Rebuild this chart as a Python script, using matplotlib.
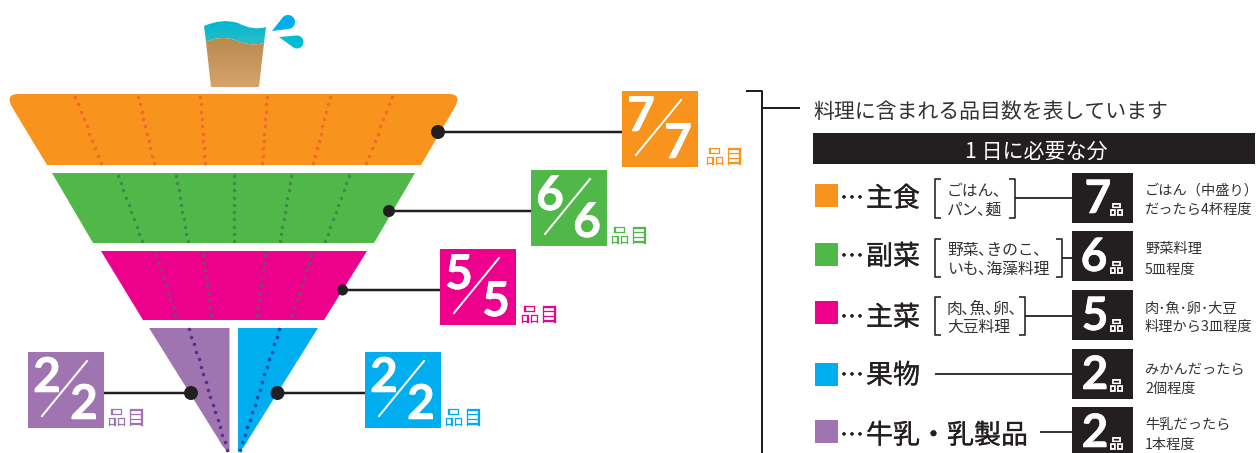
import numpy as np
import matplotlib
matplotlib.use("Agg")
import matplotlib.pyplot as plt
import matplotlib.patheffects as pe
from matplotlib.patches import Polygon, PathPatch, Rectangle, Circle
from matplotlib.path import Path

# ---- content ----
food_groups = ["主食", "副菜", "主菜", "果物", "牛乳・乳製品"]
daily_counts = [7, 6, 5, 2, 2]
examples = [["ごはん､", "パン､麺"], ["野菜､きのこ､", "いも､海藻料理"], ["肉､魚､卵､", "大豆料理"], None, None]
servings = [["ごはん（中盛り）", "だったら4杯程度"], ["野菜料理", "5皿程度"], ["肉･魚･卵･大豆", "料理から3皿程度"],
            ["みかんだったら", "2個程度"], ["牛乳だったら", "1本程度"]]
unit_label = "品目"
heading = "料理に含まれる品目数を表しています"
bar_title = "1 日に必要な分"

# ---- styles ----
ORANGE, GREEN, PINK, BLUE, PURPLE = "#f8931d", "#50b848", "#ec008c", "#00aeef", "#a074b0"
INK = "#231f20"
JP = ["Noto Sans CJK JP", "DejaVu Sans"]
NUM = ["Lato", "DejaVu Sans"]


def pt(px):
    return px * 0.72


fig = plt.figure(figsize=(12.58, 4.53), dpi=100)
ax = fig.add_axes([0, 0, 1, 1])
ax.set_xlim(0, 1258)
ax.set_ylim(453, 0)
ax.axis("off")


def txt(x, y, s, px, color=INK, ha="left", va="center_baseline", family=JP, weight="normal", z=6, thick=0):
    t = ax.text(x, y, s, fontsize=pt(px), color=color, ha=ha, va=va, family=family, weight=weight, zorder=z)
    if thick:
        t.set_path_effects([pe.withStroke(linewidth=thick, foreground=color)])
    return t


def line(xs, ys, lw=2.0, color=INK, z=3):
    ax.plot(xs, ys, color=color, lw=pt(lw), solid_capstyle="butt", solid_joinstyle="round", zorder=z)


def dots(x0, y0, x1, y1, n, color):
    ax.scatter(np.linspace(x0, x1, n), np.linspace(y0, y1, n), s=6.5, color=color, lw=0, zorder=2)


def drop(tip, centre, r, color):
    """Teardrop: a circle with its tangents meeting at the tip."""
    tx, ty = tip
    cx, cy = centre
    d = np.hypot(cx - tx, cy - ty)
    base = np.arctan2(ty - cy, tx - cx)
    half = np.arccos(r / d)
    ang = np.linspace(base + half, base + 2 * np.pi - half, 30)
    pts = [(tx, ty)] + [(cx + r * np.cos(a), cy + r * np.sin(a)) for a in ang]
    ax.add_patch(Polygon(pts, fc=color, ec="none", zorder=3))


# ---- pyramid tiers ----
V, C, L = Path.MOVETO, Path.CURVE3, Path.LINETO
ax.add_patch(PathPatch(Path(
    [(47, 165), (12, 107), (5, 94), (18, 94), (449, 94), (462, 94), (455, 107), (421, 165), (47, 165)],
    [V, L, C, C, L, C, C, L, Path.CLOSEPOLY]), fc=ORANGE, ec="none", zorder=1))
ax.add_patch(Polygon([(52, 173), (415, 173), (374, 243), (93, 243)], fc=GREEN, ec="none", zorder=1))
ax.add_patch(Polygon([(101, 251), (367, 251), (324, 320), (143, 320)], fc=PINK, ec="none", zorder=1))
ax.add_patch(PathPatch(Path(
    [(149, 328), (229.5, 328), (229.5, 452), (224, 450), (219, 440), (149, 328)],
    [V, L, L, C, C, Path.CLOSEPOLY]), fc=PURPLE, ec="none", zorder=1))
ax.add_patch(PathPatch(Path(
    [(238, 328), (318, 328), (248, 440), (243, 450), (238, 452), (238, 328)],
    [V, L, L, C, C, Path.CLOSEPOLY]), fc=BLUE, ec="none", zorder=1))

orange_dots = [(75, 101), (138, 154), (200, 205), (267, 262), (330, 313), (392, 366)]
green_dots = [(118, 142), (176, 187.5), (234, 234), (291, 280), (349, 325)]
pink_dots = [(156, 175), (202.5, 211), (265, 257), (311, 292)]
for a, b in orange_dots:
    dots(a, 97, b, 163, 10, "#f26b2c")
for a, b in green_dots:
    dots(a, 176, b, 241, 10, "#3f8b4d")
for a, b in pink_dots:
    dots(a, 255, b, 315, 9, "#7d4a70")
dots(189, 329, 227, 450, 17, "#5c2d91")
dots(279, 329, 240, 450, 17, "#0b4ea2")

# ---- leader lines, dots and fraction boxes ----
tiers = [
    (ORANGE, (622, 91), (438, 132), (622, 132), 705),
    (GREEN, (531, 170), (389, 211), (531, 211), 610),
    (PINK, (440, 249), (342.5, 290), (440, 290), 520),
    (PURPLE, (28, 352), (191, 393), (104, 393), 107),
    (BLUE, (365, 352), (277.5, 393), (365, 393), 444),
]
order = [0, 1, 2, 4, 3]
radii = [7, 6, 5.5, 7, 7]
for (col, (bx, by), (cx, cy), (lx, ly), ux), idx, r in zip(tiers, order, radii):
    n = str(daily_counts[idx])
    line([cx, lx], [cy, ly], lw=2.5, z=4)
    ax.add_patch(Circle((cx, cy), r, fc=INK, ec="none", zorder=5))
    ax.add_patch(Rectangle((bx, by), 76, 76, fc=col, ec="none", zorder=5))
    ax.plot([bx + 14, bx + 59], [by + 64, by + 9], color="white", lw=pt(2.0), zorder=6)
    txt(bx + 19, by + 26, n, 48, "white", "center", "center", NUM, "bold", thick=0.4)
    txt(bx + 56, by + 53, n, 48, "white", "center", "center", NUM, "bold", thick=0.4)
    txt(ux, by + 67, unit_label, 19.5, col, "left", "center", thick=0.2)

# ---- glass ----
grad = np.linspace(0, 1, 64)[:, None]
soil = ax.imshow(np.dstack([0.72 + 0.12 * grad, 0.54 + 0.10 * grad, 0.31 + 0.12 * grad]),
                 extent=(200, 270, 87, 37), aspect="auto", zorder=2)
soil.set_clip_path(PathPatch(Path(
    [(206, 42), (220, 35), (235, 40), (250, 47), (264, 43), (259, 87), (211, 87), (206, 42)],
    [V, C, C, C, C, L, L, Path.CLOSEPOLY]), transform=ax.transData))
water = ax.imshow(np.dstack([0.0 + 0.17 * grad, 0.71 + 0.04 * grad, 0.83 - 0.07 * grad]),
                  extent=(200, 270, 45, 20), aspect="auto", zorder=1.5)
water.set_clip_path(PathPatch(Path(
    [(204, 26), (222, 18), (238, 23), (253, 31), (266, 27), (264, 43), (250, 47), (235, 40), (220, 35),
     (206, 42), (204, 26)],
    [V, C, C, C, C, L, C, C, C, C, Path.CLOSEPOLY]), transform=ax.transData))
ax.set_xlim(0, 1258)
ax.set_ylim(453, 0)
drop((272, 31), (288, 22), 7, BLUE)
drop((279, 37), (297, 42), 6.5, "#00bcd0")

# ---- right panel ----
line([746, 762, 762], [91, 91, 453], lw=2.0)
line([762, 800], [108, 108], lw=2.0)
txt(813, 109, heading, 20.9, "#333333")
ax.add_patch(Rectangle((813, 133), 442, 31, fc=INK, ec="none", zorder=3))
txt(1036, 149, bar_title, 21, "white", "center")

swatches = [ORANGE, GREEN, PINK, BLUE, PURPLE]
swatch_tops = [184, 243, 301, 363, 420]
label_y = [196, 254, 315, 373, 433]
box_tops = [173, 231, 290, 349, 407]
line_y = [198, 258, 316, 374, 432]
line_x0 = [1015, 1062, 1025, 935, 1040]
brackets = [(935, 1015, 179, 218), (935, 1062, 239, 277), (935, 1025, 297, 335), None, None]
desc_y = [(189, 208), (248, 268), (307, 325), (368, 387), (423, 443)]
digit_x = [1098, 1094, 1095, 1095, 1095]

for i, name in enumerate(food_groups):
    ax.add_patch(Rectangle((814.5, swatch_tops[i]), 23, 23, fc=swatches[i], ec="none", zorder=3))
    txt(840, label_y[i] + 1, "…", 24, thick=0.2)
    txt(866, label_y[i], name, 27, thick=0.2)
    line([line_x0[i], 1072], [line_y[i]] * 2, lw=1.8)
    ax.add_patch(Rectangle((1072, box_tops[i]), 61, 50, fc=INK, ec="none", zorder=4))
    txt(digit_x[i], box_tops[i] + 27, str(daily_counts[i]), 46, "white", "center", "center", NUM, "bold", thick=0.4)
    txt(1109, box_tops[i] + 35, "品", 15, "white", weight="bold")
    if brackets[i]:
        x0, x1, y0, y1 = brackets[i]
        line([x0 + 6, x0, x0, x0 + 6], [y0, y0, y1, y1], lw=1.6)
        line([x1 - 6, x1, x1, x1 - 6], [y0, y0, y1, y1], lw=1.6)
        txt(947, (y0 * 0.74 + y1 * 0.26), examples[i][0], 15.8, "#333333")
        txt(947, (y0 * 0.26 + y1 * 0.74), examples[i][1], 15.8, "#333333")
    for s, y in zip(servings[i], desc_y[i]):
        txt(1145, y, s, 14.2, "#333333")

fig.savefig("out.png", dpi=100)
